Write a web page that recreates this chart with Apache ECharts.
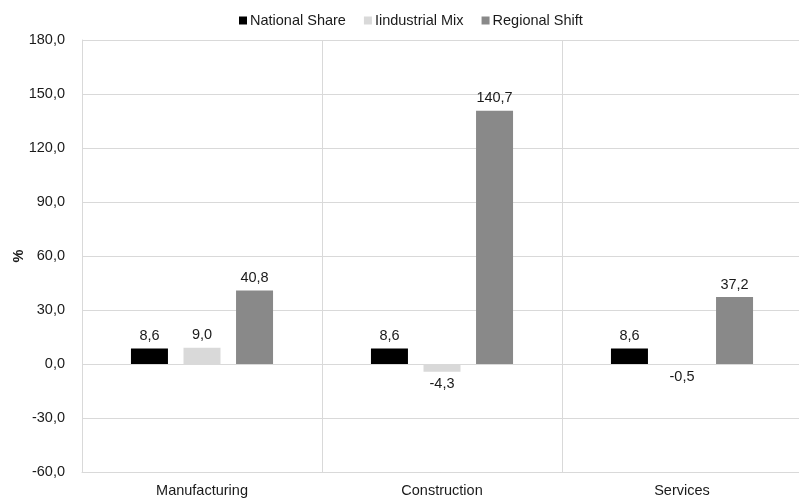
<!DOCTYPE html>
<html><head><meta charset="utf-8">
<script src="https://cdn.jsdelivr.net/npm/echarts@6/dist/echarts.min.js"></script>
<style>html,body{margin:0;padding:0;background:#fff}#c{width:799px;height:503px}</style>
</head><body><div id="c"></div>
<script>
var categories = ['Manufacturing', 'Construction', 'Services'];
var seriesNames = ['National Share', 'Iindustrial Mix', 'Regional Shift'];
var nationalShare = [8.6, 8.6, 8.6];
var industrialMix = [9.0, -4.3, -0.5];
var regionalShift = [40.8, 140.7, 37.2];
var colors = ['#000000', '#d9d9d9', '#898989'];

function fmt(v){ return Number(v).toFixed(1).replace('.', ','); }
function items(arr){
  return arr.map(function(v){
    return v < 0 ? {value: v, label: {position: 'bottom'}} : v;
  });
}
var font = 'Liberation Sans, Arial, sans-serif';
var fs = 14.5;
var txt = '#1a1a1a';
var allData = [nationalShare, industrialMix, regionalShift];
var series = allData.map(function(d, i){
  return {
    name: seriesNames[i], type: 'bar', data: items(d),
    barWidth: 37, barGap: '42%',
    itemStyle: {color: colors[i]},
    label: {show: true, position: 'top', distance: 5, color: txt, fontSize: fs, fontFamily: font,
      formatter: function(p){ return fmt(p.value); }}
  };
});
var chart = echarts.init(document.getElementById('c'));
chart.setOption({
  animation: false,
  textStyle: {fontFamily: font},
  legend: {top: 8, left: 234, itemWidth: 8, itemHeight: 8, itemGap: 18,
    icon: 'rect', textStyle: {fontSize: fs, color: txt, fontFamily: font, padding: [0,0,0,-2]},
    data: seriesNames},
  grid: {left: 82, width: 720, top: 40, height: 432, containLabel: false, outerBoundsMode: 'none'},
  xAxis: {type: 'category', data: categories,
    axisLine: {show: true, onZero: false, lineStyle: {color: '#d9d9d9'}},
    axisTick: {show: false},
    splitLine: {show: true, lineStyle: {color: '#d9d9d9'}},
    axisLabel: {color: txt, fontSize: fs, margin: 11, fontFamily: font}},
  yAxis: {type: 'value', min: -60, max: 180, interval: 30,
    name: '%', nameLocation: 'middle', nameGap: 56, nameRotate: 90, nameMoveOverlap: false,
    nameTextStyle: {fontWeight: 'bold', fontSize: fs, color: txt, fontFamily: font},
    axisLine: {show: true, lineStyle: {color: '#d9d9d9'}},
    axisTick: {show: false},
    splitLine: {lineStyle: {color: '#d9d9d9'}},
    axisLabel: {color: txt, fontSize: fs, margin: 17, fontFamily: font, formatter: fmt}},
  series: series
});
</script></body></html>
